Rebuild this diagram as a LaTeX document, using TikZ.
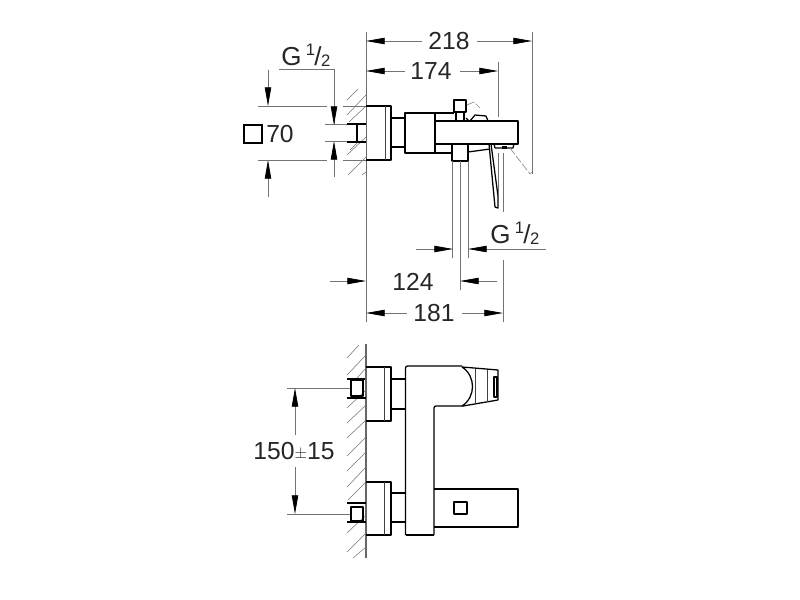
\documentclass[tikz,border=0pt]{standalone}
\usepackage{fontspec}
\setmainfont{Liberation Sans}
\usetikzlibrary{arrows.meta}
\tikzset{
  part/.style={line width=0.95pt,black,line join=round},
  thin part/.style={line width=0.6pt,black!75},
  dimline/.style={line width=0.55pt,black!55},
  dimarrow/.style={dimline,-{Triangle[length=14pt,width=4.8pt,color=black]}},
  hatch/.style={line width=0.4pt,black!55},
  ghost/.style={line width=0.5pt,black!45,dash pattern=on 6pt off 1.5pt},
  dimtext/.style={inner sep=0pt,font=\fontsize{18.5}{20}\selectfont,text=black!85}
}
\newcommand{\gthread}{\fontsize{19.5}{20}\selectfont G\hspace{0.17em}\raisebox{0.42em}{\fontsize{12.5}{13}\selectfont 1}\kern-0.03em/\kern-0.02em\raisebox{-0.02em}{\fontsize{12.5}{13}\selectfont 2}}
\begin{document}
\begin{tikzpicture}[x=0.75pt,y=0.75pt,yscale=-1,xscale=1]
        \useasboundingbox (0,0) rectangle (800,600);
        % upper view, wall
        \draw [dimline] (366,32) -- (366,322) ;
        \draw [line width=0.75pt,black!60] (366,90) -- (366,176) ;
        \foreach \a/\b/\c/\d in {347/100/358/89, 347/115/366/95, 349/122/366/106, 350/150/357/143, 347/155/366/137, 348/175/366/157, 362/175/366/172} 
            \draw [hatch] (\a,\b) -- (\c,\d) ;
        % upper view, fitting
        \draw [part,line width=1.3pt] (347,124) -- (366,124) ;
        \draw [part,line width=1.3pt] (347,142) -- (366,142) ;
        \draw [part,line width=1.3pt] (357,124) -- (357,142) ;
        \draw [part] (366,106) -- (391,106) -- (391,160) -- (366,160) ;
        \draw [thin part] (385,106) -- (385,160) ;
        \draw [part] (391,118) -- (405,118) ;
        \draw [part] (391,147) -- (405,147) ;
        \draw [part] (405,113) -- (435,113) -- (435,153) -- (405,153) -- cycle ;
        \draw [part] (435,121) -- (518,121) -- (518,144) -- (435,144) ;
        \draw [part] (435,113) -- (454,113) ;
        \draw [part] (435,153) -- (452,153) ;
        \draw [part] (454,100) -- (466,100) -- (466,112) -- (454,112) -- cycle ;
        \draw [part] (456,112) -- (456,121) ;
        \draw [part] (464,112) -- (464,121) ;
        \draw [part] (452,144) -- (452,161) -- (468,161) -- (468,144) ;
        \draw [part] (466,118) -- (469,121) ;
        \draw [part] (470,121) -- (475,115) -- (486,116) -- (488,121) ;
        \draw [part] (468,152) -- (490,149) ;
        \draw [part] (489,144) -- (495,207) -- (498,208) -- (498,196) -- (491,144) ;
        \draw [part] (494,144) -- (495,148) -- (513,148) -- (514,144) ;
        \draw [line width=1.6pt] (502,147.5) -- (507,147.5) ;
        \draw [ghost] (467,105) -- (474,102) -- (480,108) ;
        \draw [ghost] (510,148) -- (530,174) -- (532,172) ;
        \draw [dimline] (452,161) -- (452,258) ;
        \draw [dimline] (460,161) -- (460,290) ;
        \draw [dimline] (468,161) -- (468,258) ;
        \draw [dimline] (498,153) -- (498,195) ;
        \draw [dimline] (503,153) -- (503,212) ;
        % upper view, dimensions
        \draw [dimline] (532,32) -- (532,174) ;
        \draw [dimline] (498,62) -- (498,117) ;
        \draw [dimarrow] (422,41) -- (366,41) ;
        \draw [dimarrow] (477,41) -- (532,41) ;
        \draw [dimarrow] (405,71) -- (366,71) ;
        \draw [dimarrow] (460,71) -- (498,71) ;
        \draw [dimline] (279,69) -- (334,69) -- (334,125) ;
        \draw [dimarrow] (334,100) -- (334,125) ;
        \draw [dimarrow] (334,177) -- (334,141) ;
        \draw [dimline] (325,124.5) -- (347,124.5) ;
        \draw [dimline] (325,141.5) -- (347,141.5) ;
        \draw [dimarrow] (268,70) -- (268,106) ;
        \draw [dimarrow] (268,197) -- (268,160) ;
        \draw [dimline] (258,106) -- (327,106) ;
        \draw [dimline] (343,106) -- (366,106) ;
        \draw [dimline] (258,160) -- (327,160) ;
        \draw [dimline] (343,160) -- (366,160) ;
        \draw [dimarrow] (416,249) -- (453,249) ;
        \draw [dimarrow] (546,249) -- (468,249) ;
        \draw [dimarrow] (330,281) -- (366,281) ;
        \draw [dimarrow] (497,281) -- (460,281) ;
        \draw [dimline] (503,260) -- (503,322) ;
        \draw [dimarrow] (407,313) -- (366,313) ;
        \draw [dimarrow] (462,313) -- (503,313) ;
        \draw [line width=1.5pt] (244,125) rectangle (262,143) ;
        \node (size218) [dimtext] at (449,41) {218};
        \node (size174) [dimtext] at (431,71) {174};
        \node (thread left) [dimtext,anchor=west] at (281,55) {\gthread};
        \node (size70) [dimtext] at (280,134) {70};
        \node (thread right) [dimtext,anchor=west] at (490,233) {\gthread};
        \node (size124) [dimtext] at (413,282) {124};
        \node (size181) [dimtext] at (434,313) {181};
        % lower view, wall
        \draw [line width=0.8pt,black!60] (366,344) -- (366,558) ;
        \foreach \a/\b/\c/\d in {347/358/359/345, 347/375/366/355, 357/378/366/368, 347/408/366/390, 347/423/366/405, 347/438/366/420, 347/456/366/437, 347/471/366/452, 347/487/366/467, 348/500/366/482, 347/533/366/515, 347/552/366/533, 353/558/366/547} 
            \draw [hatch] (\a,\b) -- (\c,\d) ;
        % lower view, fittings
        \draw [part,line width=1.3pt] (347,379) -- (365,379) ;
        \draw [part,line width=1.3pt] (347,398) -- (366,398) ;
        \draw [part] (363,380) -- (351,380) -- (351,396) -- (363,396) -- cycle ;
        \draw [part,line width=1.3pt] (347,503) -- (366,503) ;
        \draw [part,line width=1.3pt] (347,522) -- (366,522) ;
        \draw [part] (363,507) -- (351,507) -- (351,521) -- (363,521) -- cycle ;
        \draw [part] (366,367) -- (391,367) -- (391,421) -- (366,421) ;
        \draw [thin part] (384,367) -- (384,421) ;
        \draw [part] (366,482) -- (391,482) -- (391,535) -- (366,535) ;
        \draw [thin part] (384,482) -- (384,535) ;
        \draw [part] (391,379) -- (405,379) ;
        \draw [part] (391,409) -- (405,409) ;
        \draw [part] (391,493) -- (405,493) ;
        \draw [part] (391,522) -- (405,522) ;
        % lower view, body and spout
        \draw [part,rounded corners=1.5pt] (405.5,535) -- (405.5,366) -- (462,366) ;
        \draw [part,rounded corners=1.5pt] (434,535) -- (434,406) -- (463,406) ;
        \draw [part] (405.5,535) -- (434,535) ;
        \draw [part] (462,367) .. controls (476,376) and (476,397) .. (462,406) ;
        \draw [part] (462,367) -- (498,370) -- (498,400) -- (463,406) ;
        \draw [thin part] (475,369) -- (475,404) ;
        \draw [thin part] (487,370) -- (487,402) ;
        \draw [part] (494,377) rectangle (497,397) ;
        \draw [part] (434,489) -- (518,489) -- (518,527) -- (434,527) ;
        \draw [part] (454,502) rectangle (467,514) ;
        % lower view, dimension
        \draw [dimline] (287,388) -- (350,388) ;
        \draw [dimline] (287,514) -- (350,514) ;
        \draw [dimarrow] (295,435) -- (295,388) ;
        \draw [dimarrow] (295,467) -- (295,514) ;
        \node (size150) [dimtext] at (294,451) {150\raisebox{0.02em}{\fontsize{13}{13}\selectfont$\pm$}15};
    \end{tikzpicture}
\end{document}
